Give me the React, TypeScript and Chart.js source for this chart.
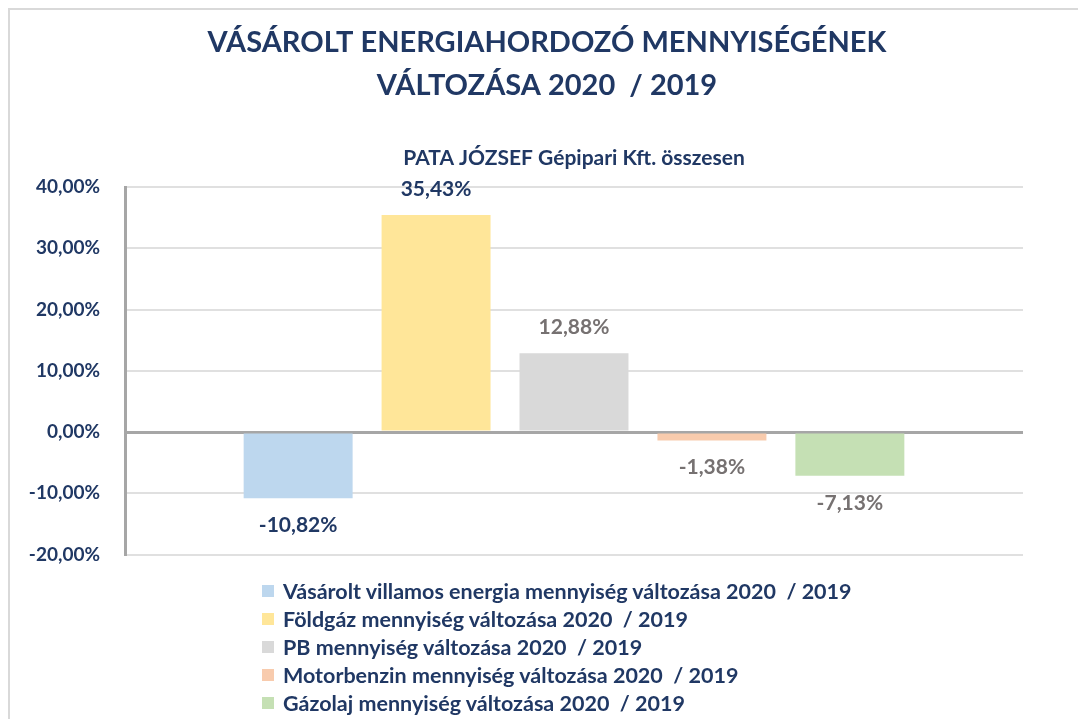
import React, { useEffect, useRef } from "react";
import { Chart, registerables } from "chart.js";

Chart.register(...registerables);

const titleLines = ["VÁSÁROLT ENERGIAHORDOZÓ MENNYISÉGÉNEK", "VÁLTOZÁSA 2020  / 2019"];
const subtitleText = "PATA JÓZSEF Gépipari Kft. összesen";
const categories = [""];
const seriesLabels = [
  "Vásárolt villamos energia mennyiség változása 2020  / 2019",
  "Földgáz mennyiség változása 2020  / 2019",
  "PB mennyiség változása 2020  / 2019",
  "Motorbenzin mennyiség változása 2020  / 2019",
  "Gázolaj mennyiség változása 2020  / 2019",
];
const seriesValues = [-10.82, 35.43, 12.88, -1.38, -7.13];
const yMin = -20;
const yMax = 40;
const yStep = 10;

const barColors = ["#BDD7EE", "#FFE699", "#D9D9D9", "#F8CBAD", "#C5E0B4"];
const labelColors = ["#203864", "#203864", "#767171", "#767171", "#767171"];
const NAVY = "#203864";
const FONT = "Lato, 'Open Sans', sans-serif";

const fmt = (v: number) => v.toFixed(2).replace(".", ",") + "%";

const dataLabelPlugin = {
  id: "dataLabels",
  afterDatasetsDraw(chart: any) {
    const ctx = chart.ctx;
    ctx.save();
    ctx.font = `bold 21px ${FONT}`;
    ctx.textAlign = "center";
    ctx.textBaseline = "middle";
    chart.data.datasets.forEach((ds: any, i: number) => {
      const meta = chart.getDatasetMeta(i);
      meta.data.forEach((bar: any, j: number) => {
        const v = ds.data[j] as number;
        const y = v >= 0 ? bar.y - 26 : bar.y + 27;
        ctx.fillStyle = labelColors[i];
        ctx.fillText(fmt(v), bar.x, y);
      });
    });
    ctx.restore();
  },
};

export default function App() {
  const ref = useRef<HTMLCanvasElement | null>(null);

  useEffect(() => {
    if (!ref.current) return;
    const chart = new Chart(ref.current, {
      type: "bar",
      data: {
        labels: categories,
        datasets: seriesLabels.map((label, i) => ({
          label,
          data: [seriesValues[i]],
          backgroundColor: barColors[i],
          borderWidth: 0,
          categoryPercentage: 0.768,
          barPercentage: 0.79,
        })),
      },
      options: {
        responsive: false,
        maintainAspectRatio: false,
        animation: false,
        layout: { padding: { left: 8, right: 0, top: 0, bottom: 15 } },
        plugins: {
          legend: { display: false },
          tooltip: { enabled: false },
          title: {
            display: true,
            text: titleLines,
            color: NAVY,
            font: { family: FONT, size: 29, weight: "bold", lineHeight: "43px" },
            padding: { top: 13, bottom: 0 },
          },
          subtitle: {
            display: true,
            text: subtitleText,
            color: NAVY,
            fullSize: false,
            font: { family: FONT, size: 21, weight: "bold", lineHeight: "24px" },
            padding: { top: 39.5, bottom: 16.5 },
          },
        },
        scales: {
          x: { display: false },
          y: {
            min: yMin,
            max: yMax,
            afterFit: (scale: any) => {
              scale.width = 109;
            },
            ticks: {
              stepSize: yStep,
              padding: 25,
              color: NAVY,
              font: { family: FONT, size: 19, weight: "bold" },
              callback: (v: any) => fmt(Number(v)),
            },
            border: { display: true, color: "#A6A6A6", width: 3 },
            grid: {
              drawTicks: false,
              color: (c: any) => (c.tick && c.tick.value === 0 ? "#A6A6A6" : "#E0E0E0"),
              lineWidth: (c: any) => (c.tick && c.tick.value === 0 ? 3 : 2),
            },
          },
          yRight: {
            position: "right",
            display: true,
            min: 0,
            max: 1,
            afterFit: (scale: any) => {
              scale.width = 55;
            },
            ticks: { display: false },
            grid: { display: false, drawTicks: false },
            border: { display: false },
          },
        },
      },
      plugins: [dataLabelPlugin],
    });
    return () => chart.destroy();
  }, []);

  return (
    <div style={{ position: "relative", width: 1070, height: 711 }}>
      <div
        style={{
          position: "absolute",
          left: 0,
          top: 0,
          width: 1078,
          height: 719,
          boxSizing: "border-box",
          borderTop: "2px solid #D9D9D9",
          borderLeft: "2px solid #D9D9D9",
          pointerEvents: "none",
        }}
      />
      <canvas ref={ref} width={1070} height={583} style={{ position: "absolute", left: 0, top: 0 }} />
      <div style={{ position: "absolute", left: 254, top: 569, fontFamily: FONT, fontWeight: "bold", fontSize: 21.5, color: NAVY }}>
        {seriesLabels.map((label, i) => (
          <div key={i} style={{ display: "flex", alignItems: "center", height: 28, whiteSpace: "pre" }}>
            <span style={{ display: "inline-block", width: 12, height: 12, background: barColors[i], marginRight: 9 }} />
            <span>{label}</span>
          </div>
        ))}
      </div>
    </div>
  );
}
